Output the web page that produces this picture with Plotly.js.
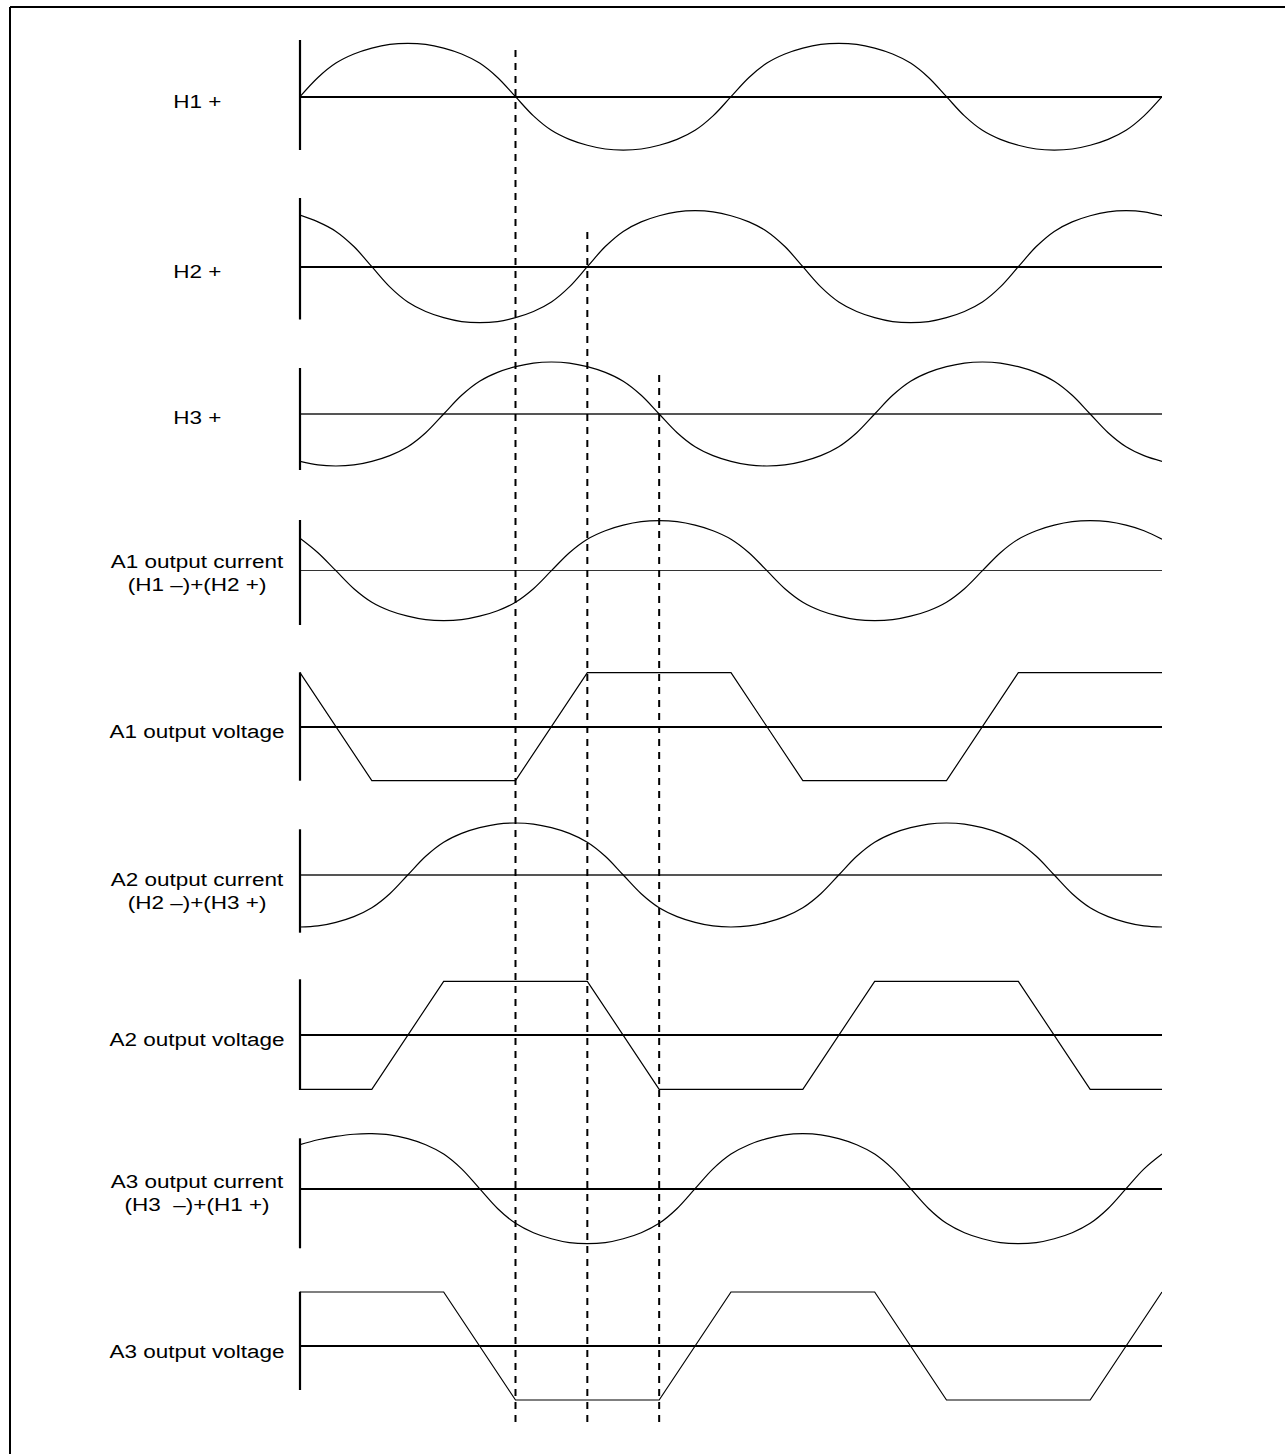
<!DOCTYPE html>
<html>
<head>
<meta charset="utf-8">
<script src="https://cdn.plot.ly/plotly-3.0.1.min.js"></script>
<style>html,body{margin:0;padding:0;background:#fff}</style>
</head>
<body>
<div id="chart" style="width:1285px;height:1454px"></div>
<script>
// ---------- data (electrical angle in degrees, normalised amplitude) ----------
const angleDeg = [0,15,30,45,60,75,90,105,120,135,150,165,180,195,210,225,240,255,270,285,300,315,330,345,360,375,390,405,420,435,450,465,480,495,510,525,540,555,570,585,600,615,630,645,660,675,690,705,720];

const h1Plus = [0,.36,.63,.8,.91,.98,1,.98,.91,.8,.63,.36,0,-.36,-.63,-.8,-.91,-.98,-1,-.98,-.91,-.8,-.63,-.36,0,.36,.63,.8,.91,.98,1,.98,.91,.8,.63,.36,0,-.36,-.63,-.8,-.91,-.98,-1,-.98,-.91,-.8,-.63,-.36,0];
const h2Plus = [.92,.8,.63,.36,0,-.36,-.63,-.8,-.91,-.98,-1,-.98,-.91,-.8,-.63,-.36,0,.36,.63,.8,.91,.98,1,.98,.91,.8,.63,.36,0,-.36,-.63,-.8,-.91,-.98,-1,-.98,-.91,-.8,-.63,-.36,0,.36,.63,.8,.91,.98,1,.98,.91];
const h3Plus = [-.91,-.98,-1,-.98,-.91,-.8,-.63,-.36,0,.36,.63,.8,.91,.98,1,.98,.91,.8,.63,.36,0,-.36,-.63,-.8,-.91,-.98,-1,-.98,-.91,-.8,-.63,-.36,0,.36,.63,.8,.91,.98,1,.98,.91,.8,.63,.36,0,-.36,-.63,-.8,-.91];
const a1Current = [.65,.36,0,-.36,-.63,-.8,-.91,-.98,-1,-.98,-.91,-.8,-.63,-.36,0,.36,.63,.8,.91,.98,1,.98,.91,.8,.63,.36,0,-.36,-.63,-.8,-.91,-.98,-1,-.98,-.91,-.8,-.63,-.36,0,.36,.63,.8,.91,.98,1,.98,.91,.8,.63];
const a2Current = [-1,-.98,-.91,-.8,-.63,-.36,0,.36,.63,.8,.91,.98,1,.98,.91,.8,.63,.36,0,-.36,-.63,-.8,-.91,-.98,-1,-.98,-.91,-.8,-.63,-.36,0,.36,.63,.8,.91,.98,1,.98,.91,.8,.63,.36,0,-.36,-.63,-.8,-.91,-.98,-1];
const a3Current = [.8,.89,.95,.99,1,.98,.91,.8,.63,.36,0,-.36,-.63,-.8,-.91,-.98,-1,-.98,-.91,-.8,-.63,-.36,0,.36,.63,.8,.91,.98,1,.98,.91,.8,.63,.36,0,-.36,-.63,-.8,-.91,-.98,-1,-.98,-.91,-.8,-.63,-.36,0,.36,.63];

const a1VoltAngle = [0,60,180,240,360,420,540,600,720];
const a1Voltage   = [1,-1,-1,1,1,-1,-1,1,1];
const a2VoltAngle = [0,60,120,240,300,420,480,600,660,720];
const a2Voltage   = [-1,-1,1,1,-1,-1,1,1,-1,-1];
const a3VoltAngle = [0,120,180,300,360,480,540,660,720];
const a3Voltage   = [1,1,-1,-1,1,1,-1,-1,1];

const markerAngles = [180,240,300];

const rowLabels = ["H1 +","H2 +","H3 +",
  "A1 output current<br>(H1 \u2013)+(H2 +)","A1 output voltage",
  "A2 output current<br>(H2 \u2013)+(H3 +)","A2 output voltage",
  "A3 output current<br>(H3\u00a0 \u2013)+(H1 +)","A3 output voltage"];

// ---------- layout geometry (pixels) ----------
const W = 1285, H = 1454;
const px = v => v / W;
const py = v => 1 - v / H;
const X0 = 300, X1 = 1162;

const rows = [
  {x: angleDeg,    y: h1Plus,    spline: true,  z: 96.7,   a: 53.4, t: 40,    b: 150,    zw: 2,   zc: '#000', ly: 102.3},
  {x: angleDeg,    y: h2Plus,    spline: true,  z: 266.7,  a: 56,   t: 198,   b: 319.5,  zw: 2,   zc: '#000', ly: 272},
  {x: angleDeg,    y: h3Plus,    spline: true,  z: 414,    a: 52,   t: 368,   b: 470,    zw: 1.4, zc: '#555', ly: 418},
  {x: angleDeg,    y: a1Current, spline: true,  z: 570.7,  a: 50,   t: 520,   b: 625,    zw: 1.4, zc: '#333', ly: 573},
  {x: a1VoltAngle, y: a1Voltage, spline: false, z: 726.6,  a: 54,   t: 672.3, b: 780.7,  zw: 2,   zc: '#000', ly: 731.5},
  {x: angleDeg,    y: a2Current, spline: true,  z: 875,    a: 52,   t: 829.3, b: 932.7,  zw: 1.4, zc: '#555', ly: 891},
  {x: a2VoltAngle, y: a2Voltage, spline: false, z: 1035.3, a: 54,   t: 979.3, b: 1090,   zw: 2,   zc: '#000', ly: 1040},
  {x: angleDeg,    y: a3Current, spline: true,  z: 1188.7, a: 55,   t: 1138.3,b: 1248.3, zw: 2,   zc: '#000', ly: 1193},
  {x: a3VoltAngle, y: a3Voltage, spline: false, z: 1346,   a: 54,   t: 1291.7,b: 1390,   zw: 2,   zc: '#000', ly: 1351.7}
];
const dashTops = [44, 232, 370];
const dashBottom = 1422;
const HALF = 72;

const traces = [];
const layout = {
  width: W, height: H,
  margin: {l: 0, r: 0, t: 0, b: 0},
  paper_bgcolor: '#fff', plot_bgcolor: 'rgba(0,0,0,0)',
  showlegend: false,
  xaxis: {domain: [px(X0), px(X1)], range: [0, 720], visible: false, fixedrange: true},
  shapes: [], annotations: []
};

rows.forEach((r, i) => {
  const n = i + 1;
  const yName = n === 1 ? 'yaxis' : 'yaxis' + n;
  layout[yName] = {
    domain: [py(r.z + HALF), py(r.z - HALF)],
    range: [-HALF / r.a, HALF / r.a],
    anchor: 'x', showgrid: false, showticklabels: false, ticks: '',
    showline: false, zeroline: true, zerolinecolor: r.zc, zerolinewidth: r.zw,
    fixedrange: true
  };
  traces.push({
    type: 'scatter', mode: 'lines', x: r.x, y: r.y,
    xaxis: 'x', yaxis: 'y' + (n === 1 ? '' : n),
    line: {color: '#000', width: 1.2, shape: r.spline ? 'spline' : 'linear', smoothing: 1},
    hoverinfo: 'skip'
  });
  // vertical axis line of the row (paper-referenced so it is not clipped)
  layout.shapes.push({type: 'line', xref: 'paper', yref: 'paper', x0: px(X0), x1: px(X0),
    y0: py(r.b), y1: py(r.t), line: {color: '#000', width: 2.2}});
  layout.annotations.push({
    xref: 'paper', yref: 'paper', x: px(197), y: py(r.ly),
    xanchor: 'center', yanchor: 'middle', align: 'center', showarrow: false,
    text: rowLabels[i],
    font: {family: 'Liberation Sans, Arial, sans-serif', size: 18, color: '#000'}
  });
});

markerAngles.forEach((ang, k) => {
  layout.shapes.push({type: 'line', xref: 'x', yref: 'paper', x0: ang, x1: ang,
    y0: py(dashBottom), y1: py(dashTops[k]), line: {color: '#000', width: 2, dash: '7px,6px'}});
});

// outer frame (top and left edges)
layout.shapes.push({type: 'line', xref: 'paper', yref: 'paper', x0: px(10), x1: 1, y0: py(7), y1: py(7), line: {color: '#000', width: 2}});
layout.shapes.push({type: 'line', xref: 'paper', yref: 'paper', x0: px(10), x1: px(10), y0: py(7), y1: 0, line: {color: '#000', width: 2}});

Plotly.newPlot('chart', traces, layout, {staticPlot: true, displayModeBar: false}).then(() => {
  const s = 1.25, cx = 197;
  document.querySelectorAll('#chart g.annotation').forEach(g => {
    g.setAttribute('transform', 'translate(' + (cx * (1 - s)) + ',0) scale(' + s + ',1)');
  });
});
</script>
</body>
</html>
